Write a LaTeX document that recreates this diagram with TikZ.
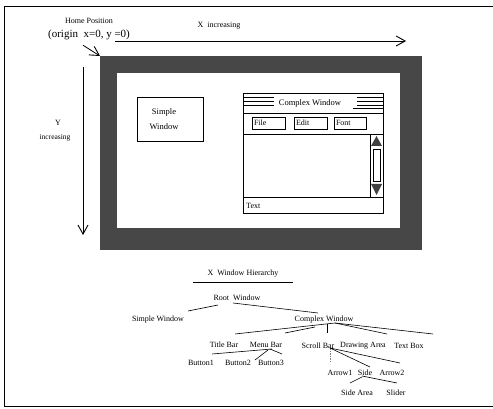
\documentclass[tikz,border=0pt]{standalone}
\usepackage{fontspec}
\setmainfont{Liberation Serif}
\usetikzlibrary{arrows.meta,calc}
\begin{document}
\begin{tikzpicture}[x=1pt,y=-1pt,
  lbl/.style={font=\fontsize{8}{9}\selectfont, inner sep=1pt},
  big/.style={font=\fontsize{11}{12}\selectfont, inner sep=1pt},
  btn/.style={draw, line width=0.6pt, font=\fontsize{8}{9}\selectfont, text width=29pt, align=left, minimum height=12pt, inner sep=2pt},
  edge/.style={line width=0.6pt},
  barb/.style={-{Straight Barb[length=9pt,width=10pt,line width=0.9pt]}, line width=0.8pt},
  darkfill/.style={fill=black!72}
]
\useasboundingbox (0,0) rectangle (493,409);
% outer frame
\draw[line width=0.8pt] (493,6) -- (4,6) -- (4,406) -- (493,406);

% dark window frame
\fill[darkfill] (100,56) rectangle (422,250);
\fill[white] (117,73) rectangle (400,228);
\coordinate (corner) at (100,56);

% labels top-left
\node[lbl] (home) at (89,21) {Home Position};
\node[big] (origin) at (89,35) {(origin\ \ x=0, y =0)};
\node[lbl] (xinc) at (219,26) {X\ \ increasing};
\coordinate (xstart) at (115,41);
\coordinate (xend) at (406,41);
\draw[barb] (xstart) -- (xend);
\draw[barb] ($(origin.south)+(-6,4)$) -- (corner);

% Y axis
\coordinate (ystart) at (83,67);
\coordinate (yend) at (83,235);
\draw[barb] (ystart) -- (yend);
\node[lbl] (ylab) at (58,123) {Y};
\node[lbl, font=\fontsize{7.5}{9}\selectfont] (yinc) at (55,138) {increasing};

% simple window
\node[draw, line width=0.6pt, minimum width=66pt, minimum height=44pt, inner sep=0pt] (swbox) at (170,119) {};
\node[align=center, font=\fontsize{8.5}{15}\selectfont, inner sep=0pt] (swtext) at (164,119) {Simple\\Window};

% complex window
\node[draw, line width=0.6pt, minimum width=140pt, minimum height=120pt, inner sep=0pt] (cwbox) at (313,153) {};
\draw[edge] (243,113) -- (383,113);
\draw[edge] (243,134) -- (383,134);
\draw[edge] (243,197) -- (383,197);
\draw[edge] (370,134) -- (370,197);
\foreach \yy in {97,101,105}{
  \draw[line width=0.5pt] (243,\yy) -- (274,\yy);
  \draw[line width=0.5pt] (357,\yy) -- (383,\yy);
}
\draw[line width=0.5pt] (353,108.5) -- (383,108.5);
\node[font=\fontsize{8.5}{10}\selectfont, inner sep=1pt] (cwtitle) at (310,103) {Complex Window};
\node[btn] (file) at (268.5,123) {File};
\node[btn] (edit) at (310.5,123) {Edit};
\node[btn, text width=28pt] (font) at (350,123) {Font};
\fill[black!75] (371,146) -- (382,146) -- (376.5,136) -- cycle;
\fill[black!75] (371,184) -- (382,184) -- (376.5,195) -- cycle;
\draw[line width=0.6pt] (373,149) rectangle (380,181);
\node[lbl, anchor=west] (txt) at (245,206) {Text};

% hierarchy
\node[lbl] (hier) at (243,274) {X\ \ Window Hierarchy};
\draw[edge] (193,282) -- (293,282);
\node[lbl] (root) at (237,298) {Root\ \ Window};
\node[lbl] (simplew) at (158,320) {Simple Window};
\node[lbl] (complexw) at (324,320) {Complex Window};
\node[lbl] (titlebar) at (224,345) {Title Bar};
\node[lbl] (menubar) at (266,345) {Menu Bar};
\node[lbl] (scrollbar) at (318,346) {Scroll Bar};
\node[lbl] (drawarea) at (363,346) {Drawing Area};
\node[lbl] (textbox) at (409,346) {Text Box};
\node[lbl] (button1) at (201,363) {Button1};
\node[lbl] (button2) at (238,363) {Button2};
\node[lbl] (button3) at (271,363) {Button3};
\node[lbl] (arrow1) at (340,373) {Arrow1};
\node[lbl] (side) at (365,373) {Side};
\node[lbl] (arrow2) at (392,373) {Arrow2};
\node[lbl] (sidearea) at (357,393) {Side Area};
\node[lbl] (slider) at (396,393) {Slider};

\draw[edge] ($(root)+(-19,7)$) -- ($(simplew)+(30,-9)$);
\draw[edge] ($(root)+(-4,5)$) -- ($(complexw)+(-6,-7)$);
\draw[edge] ($(complexw)+(11,3)$) -- ($(titlebar)+(11,-11)$);
\draw[edge] ($(complexw)+(-9,7)$) -- ($(menubar)+(19,-12)$);
\draw[edge] ($(complexw)+(3,4)$) -- ($(scrollbar)+(9,-13)$);
\draw[edge] ($(complexw)+(11,3)$) -- ($(drawarea)+(24,-12)$);
\draw[edge] ($(complexw)+(11,3)$) -- ($(textbox)+(24,-12)$);
\draw[edge] ($(menubar)+(6,4)$) -- ($(button1)+(11,-9)$);
\draw[edge] ($(menubar)+(2,5)$) -- ($(button2)+(17,-3)$);
\draw[edge] ($(menubar)+(4,4)$) -- ($(button3)+(11,-9)$);
\draw[line width=0.5pt, black!50, dashed, dash pattern=on 1.5pt off 1pt] ($(scrollbar)+(12,2)$) -- ($(arrow1)+(-10,-10)$);
\draw[edge] ($(scrollbar)+(12,2)$) -- ($(side)+(5,-6)$);
\draw[edge] ($(scrollbar)+(12,2)$) -- ($(arrow2)+(8,-10)$);
\draw[edge] ($(side)+(-3,4)$) -- ($(sidearea)+(-7,-10)$);
\draw[edge] ($(side)+(-3,3)$) -- ($(slider)+(1,-10)$);
\end{tikzpicture}
\end{document}
